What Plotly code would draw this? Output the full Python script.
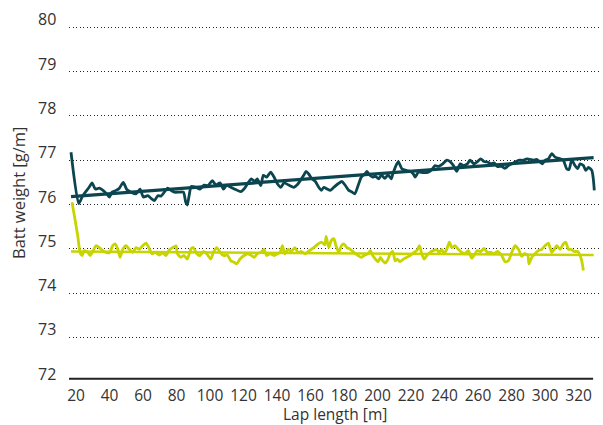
import plotly.graph_objects as go

# ---- data ----
dark_x = [17.0, 21.6, 24.0, 27.8, 29.6, 31.5, 33.9, 36.1, 38.3, 39.9, 41.5, 43.9, 45.9, 48.2, 50.3, 52.8,
          55.8, 58.2, 60.2, 62.8, 64.8, 66.8, 68.8, 70.7, 72.7, 74.7, 76.7, 78.7, 81.5, 84.1, 85.5, 86.4,
          87.5, 88.8, 91.5, 94.0, 96.4, 98.8, 101.4, 103.4, 106.0, 108.0, 110.0, 112.4, 115.3, 118.3,
          120.7, 122.7, 124.7, 126.7, 128.2, 130.3, 131.8, 133.8, 136.2, 138.2, 140.2, 142.2, 144.2,
          147.0, 150.0, 151.9, 153.9, 155.9, 157.3, 158.9, 160.9, 162.9, 164.9, 166.5, 167.9, 169.9,
          171.8, 173.9, 176.4, 178.8, 180.8, 182.8, 184.8, 186.4, 188.4, 190.3, 192.4, 193.7, 195.1,
          197.1, 198.7, 200.7, 202.3, 204.3, 206.3, 208.2, 209.1, 211.0, 212.4, 214.5, 217.0, 219.4,
          221.4, 222.4, 224.4, 227.4, 230.3, 232.4, 234.3, 236.3, 238.9, 241.3, 243.3, 245.3, 247.3,
          249.3, 251.2, 253.6, 255.2, 257.6, 259.6, 261.6, 263.6, 265.6, 267.6, 269.6, 271.5, 274.1,
          276.1, 278.1, 281.1, 284.1, 287.0, 289.1, 291.0, 293.0, 295.0, 297.0, 298.4, 300.0, 302.0,
          304.0, 306.0, 309.0, 310.9, 312.9, 314.3, 315.9, 317.9, 319.5, 320.9, 322.9, 324.3, 325.9,
          327.9, 328.8, 329.4]
dark_y = [77.18, 76.02, 76.20, 76.39, 76.49, 76.35, 76.37, 76.32, 76.24, 76.17, 76.28, 76.32, 76.37, 76.50, 76.34, 76.28,
          76.24, 76.35, 76.17, 76.20, 76.14, 76.09, 76.20, 76.19, 76.28, 76.37, 76.32, 76.28, 76.28, 76.28, 76.05, 75.99,
          76.20, 76.41, 76.39, 76.35, 76.44, 76.43, 76.54, 76.44, 76.49, 76.35, 76.44, 76.39, 76.34, 76.29,
          76.37, 76.49, 76.58, 76.52, 76.58, 76.43, 76.66, 76.62, 76.73, 76.62, 76.47, 76.39, 76.49,
          76.44, 76.39, 76.44, 76.54, 76.66, 76.75, 76.69, 76.58, 76.52, 76.39, 76.32, 76.39, 76.35,
          76.32, 76.39, 76.47, 76.52, 76.43, 76.32, 76.28, 76.24, 76.43, 76.62, 76.69, 76.75, 76.67,
          76.62, 76.64, 76.58, 76.67, 76.59, 76.67, 76.58, 76.69, 76.88, 76.97, 76.81, 76.77, 76.75,
          76.69, 76.62, 76.73, 76.72, 76.73, 76.79, 76.88, 76.86, 76.92, 77.00, 76.97, 76.88, 76.75,
          76.92, 76.88, 76.92, 77.00, 76.92, 76.97, 77.03, 76.97, 76.96, 76.92, 76.94, 76.86, 76.86,
          76.82, 76.88, 76.94, 77.00, 77.00, 77.03, 77.02, 77.00, 77.02, 76.96, 76.92, 77.00, 77.03,
          77.15, 77.07, 77.03, 77.00, 76.81, 76.79, 77.00, 76.88, 76.81, 76.92, 76.88, 76.77, 76.84,
          76.77, 76.58, 76.32]

yellow_x = [17.6, 19.0, 21.0, 22.4, 23.6, 25.0, 27.0, 28.4, 30.0, 31.9, 33.9, 35.9, 37.9, 39.9, 41.9, 43.5,
            44.9, 46.3, 47.9, 49.9, 51.8, 53.9, 55.8, 57.8, 59.8, 61.8, 63.4, 65.4, 67.3, 69.7, 71.8, 73.7,
            75.7, 77.7, 79.7, 80.5, 82.5, 84.5, 86.4, 88.5, 90.0, 92.1, 94.0, 96.0, 98.0, 100.4, 102.0,
            104.0, 106.0, 108.0, 110.3, 112.4, 114.3, 115.9, 117.9, 120.3, 122.3, 124.3, 126.3, 128.2,
            130.3, 132.2, 133.8, 135.8, 138.2, 140.2, 141.8, 143.2, 144.6, 146.6, 148.5, 150.6, 152.5,
            154.5, 156.9, 159.3, 161.9, 164.5, 166.5, 168.5, 169.3, 170.9, 172.4, 173.9, 175.2, 176.8,
            178.4, 179.8, 181.8, 183.8, 185.8, 188.4, 190.3, 192.4, 194.3, 195.7, 197.1, 198.7, 200.3,
            201.7, 203.1, 204.7, 206.3, 207.6, 209.1, 210.5, 211.8, 213.4, 215.4, 217.4, 219.4, 221.8,
            223.4, 225.0, 226.4, 227.8, 229.4, 231.4, 233.3, 235.3, 236.9, 238.3, 239.7, 241.3, 242.9,
            244.3, 246.3, 248.2, 250.3, 252.2, 254.2, 256.2, 258.2, 259.6, 261.6, 263.6, 265.6, 267.6,
            269.6, 271.5, 274.1, 276.1, 278.1, 280.1, 282.1, 284.1, 286.1, 287.7, 289.7, 290.4, 292.1,
            294.0, 296.0, 298.0, 300.0, 302.0, 304.0, 305.5, 307.0, 309.0, 310.9, 312.4, 313.9, 315.5,
            317.5, 319.5, 320.9, 321.9, 322.9]
yellow_y = [76.05, 75.75, 75.30, 74.92, 74.85, 74.96, 74.92, 74.85, 74.94, 75.07, 75.03, 74.96, 74.92, 74.91, 75.07, 75.11,
            74.99, 74.81, 74.99, 75.07, 74.99, 74.92, 75.03, 74.99, 75.07, 75.13, 75.03, 74.89, 74.92, 74.86, 74.91, 74.85,
            74.98, 75.03, 75.07, 74.89, 74.81, 74.85, 74.77, 74.99, 75.03, 74.89, 74.85, 74.94, 74.89, 74.77, 74.92,
            75.03, 74.92, 74.85, 74.86, 74.73, 74.70, 74.66, 74.77, 74.85, 74.89, 74.86, 74.81, 74.89,
            74.92, 74.99, 74.85, 74.89, 74.85, 74.89, 74.92, 75.07, 74.89, 74.99, 74.94, 75.03, 74.92,
            74.94, 74.89, 74.96, 75.03, 75.11, 75.15, 75.09, 75.28, 75.03, 75.19, 75.23, 75.07, 74.92,
            75.07, 75.11, 75.03, 74.99, 74.92, 74.85, 74.81, 74.86, 74.89, 74.96, 74.85, 74.77, 74.71,
            74.81, 74.73, 74.68, 74.77, 74.89, 74.94, 74.73, 74.77, 74.71, 74.77, 74.81, 74.85, 74.92,
            74.96, 75.07, 74.89, 74.77, 74.85, 74.92, 74.96, 74.98, 74.92, 74.99, 74.89, 74.99, 75.15,
            75.03, 75.07, 74.99, 74.92, 74.89, 74.96, 74.79, 74.89, 74.96, 74.94, 75.01, 74.92, 74.92,
            74.89, 74.94, 74.85, 74.71, 74.73, 74.92, 75.07, 74.99, 74.83, 74.89, 74.85, 74.66, 74.81,
            74.89, 74.96, 74.99, 75.07, 75.13, 74.92, 74.99, 75.07, 74.99, 75.11, 75.15, 74.99, 74.99,
            74.94, 74.94, 74.85, 74.73, 74.51]

dark_trend_x = [17.0, 329.0]
dark_trend_y = [76.18, 77.06]
yellow_trend_x = [17.0, 329.0]
yellow_trend_y = [74.94, 74.86]

x_ticks = list(range(20, 321, 20))
y_ticks = [72, 73, 74, 75, 76, 77, 78, 79, 80]

DARK = "#0b4650"
YELLOW = "#c8d400"
TEXT = "#333333"
FONT = "Open Sans"

fig = go.Figure()
fig.add_trace(go.Scatter(x=yellow_trend_x, y=yellow_trend_y, mode="lines",
                         line=dict(color=YELLOW, width=2.5), hoverinfo="skip"))
fig.add_trace(go.Scatter(x=yellow_x, y=yellow_y, mode="lines",
                         line=dict(color=YELLOW, width=2.8, shape="spline", smoothing=0.6)))
fig.add_trace(go.Scatter(x=dark_x, y=dark_y, mode="lines",
                         line=dict(color=DARK, width=2.8, shape="spline", smoothing=0.6)))
fig.add_trace(go.Scatter(x=dark_trend_x, y=dark_trend_y, mode="lines",
                         line=dict(color=DARK, width=3.2), hoverinfo="skip"))

annotations = []
for v in y_ticks:
    annotations.append(dict(x=0, xref="paper", y=v, yref="y", text=str(v), showarrow=False,
                            xanchor="right", yanchor="middle", xshift=-11, yshift=8,
                            font=dict(family=FONT, size=16, color=TEXT)))
annotations.append(dict(x=-0.096, xref="paper", y=0.5, yref="paper",
                        text="Batt weight [g/m]", showarrow=False, textangle=-90,
                        xanchor="center", yanchor="middle", yshift=12,
                        font=dict(family=FONT, size=16.5, color=TEXT)))
annotations.append(dict(x=0.5, xref="paper", y=0, yref="paper", text="Lap length [m]",
                        showarrow=False, xanchor="center", yanchor="middle", yshift=-30,
                        borderpad=0,
                        font=dict(family=FONT, size=15.5, color=TEXT)))

fig.update_layout(
    width=603, height=425,
    margin=dict(l=69, r=3, t=26, b=41, autoexpand=False),
    paper_bgcolor="white", plot_bgcolor="white",
    showlegend=False,
    font=dict(family=FONT, size=16, color=TEXT),
    annotations=annotations,
    shapes=[dict(type="line", xref="paper", yref="y", x0=0, x1=0.987, y0=72.07, y1=72.07,
                 line=dict(color="#222222", width=2))],
    xaxis=dict(range=[15.8, 332.8], tickvals=x_ticks, ticktext=[str(t) for t in x_ticks],
               showgrid=False, zeroline=False, showline=False, ticks="", automargin=False,
               tickfont=dict(family=FONT, size=15.5, color=TEXT), ticklabelstandoff=0),
    yaxis=dict(range=[71.95, 80.03], tickvals=y_ticks[1:], showticklabels=False,
               showgrid=True, gridcolor="#222222", gridwidth=1, griddash="1px,2.5px",
               zeroline=False, showline=False, ticks="", automargin=False),
)

fig.write_html("out.html", config={"displayModeBar": False},
               post_script="document.body.style.margin='0';")
